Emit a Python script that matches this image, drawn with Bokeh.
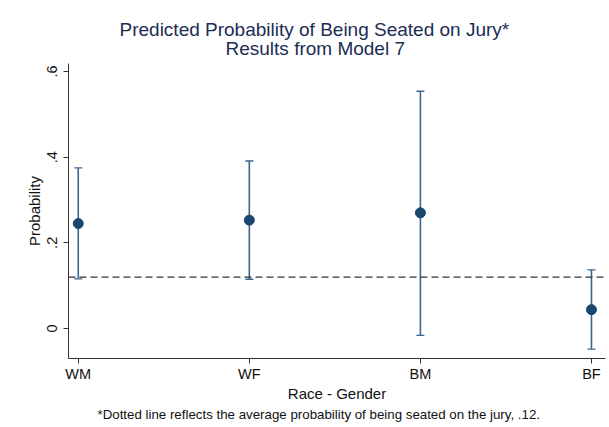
from bokeh.plotting import figure
from bokeh.models import Range1d, FixedTicker, Whisker, ColumnDataSource, Span, Title, TeeHead
from bokeh.embed import file_html
from bokeh.resources import INLINE

# ---- data ----
groups = ["WM", "WF", "BM", "BF"]
prob = [0.245, 0.253, 0.270, 0.044]
lower = [0.116, 0.115, -0.016, -0.048]
upper = [0.375, 0.391, 0.554, 0.137]
avg_prob = 0.12
yticks = [0, 0.2, 0.4, 0.6]
ytick_labels = ["0", ".2", ".4", ".6"]
title_lines = ["Predicted Probability of Being Seated on Jury*", "Results from Model 7"]
footnote = "*Dotted line reflects the average probability of being seated on the jury, .12."

xpos = list(range(1, len(groups) + 1))
src = ColumnDataSource(dict(x=xpos, prob=prob, lower=lower, upper=upper))

FONT = "Liberation Sans"
NAVY = "#1a476f"
BAR = "#3a6690"
TITLE_C = "#1c2d55"

p = figure(width=609, height=427, output_backend="svg", toolbar_location=None,
           x_range=Range1d(0.943, 4.082), y_range=Range1d(-0.070, 0.6187),
           min_border_left=68, min_border_right=4, min_border_top=63, min_border_bottom=69)

p.outline_line_color = None
p.xgrid.visible = False
p.ygrid.visible = False

# title: two lines (added titles sit nearer the plot); left-aligned with offsets so
# that both lines are centred on the page like the reference
p.title.text = title_lines[0]
p.title.align = "left"
p.title.offset = 51
p.title.text_font = FONT
p.title.text_font_size = "19px"
p.title.text_font_style = "normal"
p.title.text_color = TITLE_C
p.title.text_line_height = 0.8
p.title.standoff = -16
p.add_layout(Title(text=title_lines[1], align="left", offset=157, text_font=FONT,
                   text_font_size="19px", text_font_style="normal", text_color=TITLE_C,
                   text_line_height=0.8, standoff=9), "above")

# footnote
p.add_layout(Title(text=footnote, align="left", offset=29, text_font=FONT, text_font_size="13.3px",
                   text_font_style="normal", text_color="#111111", standoff=0), "below")

# axes
for ax in (p.xaxis[0], p.yaxis[0]):
    ax.axis_line_color = "#333333"
    ax.axis_line_width = 1
    ax.major_tick_line_color = "#333333"
    ax.major_tick_out = 5
    ax.major_tick_in = 0
    ax.minor_tick_out = 0
    ax.minor_tick_in = 0
    ax.major_label_text_font = FONT
    ax.major_label_text_font_size = "14.5px"
    ax.major_label_text_color = "#111111"
    ax.axis_label_text_font = FONT
    ax.axis_label_text_font_size = "15px"
    ax.axis_label_text_font_style = "normal"
    ax.axis_label_text_color = "#111111"

p.xaxis.ticker = FixedTicker(ticks=xpos)
p.xaxis.major_label_overrides = {x: g for x, g in zip(xpos, groups)}
p.xaxis.axis_label = "Race - Gender"
p.xaxis.major_label_standoff = 2
p.xaxis.axis_label_standoff = 0

p.yaxis.ticker = FixedTicker(ticks=yticks)
p.yaxis.major_label_overrides = {t: s for t, s in zip(yticks, ytick_labels)}
p.yaxis.major_label_orientation = "vertical"
p.yaxis.axis_label = "Probability"
p.yaxis.major_label_standoff = 6
p.yaxis.axis_label_standoff = 2

# reference line
p.add_layout(Span(location=avg_prob, dimension="width", line_color="#333333",
                  line_width=1.2, line_dash="7 4"))

# error bars
p.add_layout(Whisker(source=src, base="x", upper="upper", lower="lower", dimension="height",
                     line_color=BAR, line_width=1.6,
                     upper_head=TeeHead(size=8, line_color=BAR, line_width=1.4),
                     lower_head=TeeHead(size=8, line_color=BAR, line_width=1.4)))

p.scatter("x", "prob", source=src, size=10, fill_color=NAVY, line_color=NAVY)

open("out.html", "w").write(file_html(p, INLINE))
